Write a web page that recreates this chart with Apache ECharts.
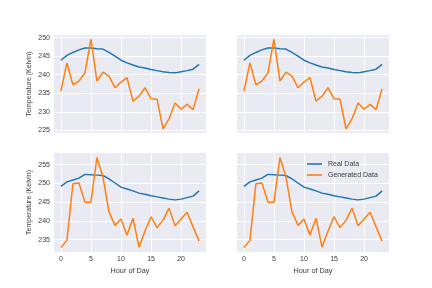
<!DOCTYPE html>
<html><head><meta charset="utf-8">
<script src="https://cdn.jsdelivr.net/npm/echarts@6/dist/echarts.min.js"></script>
<style>html,body{margin:0;padding:0;background:#fff}#c{width:432px;height:288px}</style>
</head><body><div id="c"></div>
<script>
const hours = [0,1,2,3,4,5,6,7,8,9,10,11,12,13,14,15,16,17,18,19,20,21,22,23];
const realTop = [243.9,245.2,246.0,246.7,247.2,247.2,247.0,246.9,246.0,245.0,243.9,243.2,242.6,242.1,241.8,241.4,241.1,240.8,240.6,240.5,240.8,241.1,241.5,242.8];
const genTop = [235.6,243.2,237.3,238.3,240.5,249.6,238.3,240.7,239.6,236.5,238.0,239.2,232.9,234.2,236.5,233.5,233.4,225.4,228.1,232.4,230.7,232.0,230.6,236.2];
const realBottom = [249.2,250.4,250.9,251.4,252.4,252.3,252.2,252.1,251.2,250.1,249.0,248.5,248.0,247.4,247.1,246.7,246.4,246.1,245.8,245.6,245.8,246.2,246.6,248.0];
const genBottom = [232.9,234.8,249.9,250.1,245.0,245.0,256.9,251.7,242.4,238.8,240.5,236.2,240.7,233.0,237.3,241.1,238.2,240.2,243.4,238.7,240.5,242.3,238.4,234.6];
const xTicks = [0,5,10,15,20];
const yTicksTop = [225,230,235,240,245,250];
const yTicksBottom = [235,240,245,250,255];
const seriesNames = ['Real Data','Generated Data'];

const font = 'Liberation Sans, Arial, sans-serif';
const txt = '#3a3a3a';
const grids = [
  {left:54, top:35, width:152, height:98},
  {left:237, top:35, width:152, height:98},
  {left:54, top:153, width:152, height:99},
  {left:237, top:153, width:152, height:99}
].map(g => Object.assign({backgroundColor:'#EAEAF2', show:true, borderWidth:0, containLabel:false}, g));

function xAx(i, showLabels, showName){
  return {
    type:'value', gridIndex:i, min:-1.15, max:24.15,
    axisLine:{show:false},
    axisTick:{show:true, length:0, customValues:xTicks, lineStyle:{color:'rgba(0,0,0,0)'}},
    axisLabel:{show:showLabels, customValues:xTicks, fontSize:7, color:txt, fontFamily:font, margin:4},
    splitLine:{show:true, lineStyle:{color:'#fff', width:1}},
    name: showName ? 'Hour of Day' : '', nameLocation:'middle', nameGap:15,
    nameTextStyle:{fontSize:7.3, color:txt, fontFamily:font}
  };
}
function yAx(i, min, max, ticks, showLabels){
  return {
    type:'value', gridIndex:i, min:min, max:max,
    axisLine:{show:false},
    axisTick:{show:true, length:0, customValues:ticks, lineStyle:{color:'rgba(0,0,0,0)'}},
    axisLabel:{show:showLabels, customValues:ticks, fontSize:7, color:txt, fontFamily:font, margin:4},
    splitLine:{show:true, lineStyle:{color:'#fff', width:1}},
    name: showLabels ? 'Temperature (Kelvin)' : '', nameLocation:'middle', nameGap:21, nameRotate:90,
    nameTextStyle:{fontSize:7, color:txt, fontFamily:font}
  };
}
const xAxes = [xAx(0,false,false), xAx(1,false,false), xAx(2,true,true), xAx(3,true,true)];
const yAxes = [
  yAx(0,224.3,250.7,yTicksTop,true), yAx(1,224.3,250.7,yTicksTop,false),
  yAx(2,231.7,258.1,yTicksBottom,true), yAx(3,231.7,258.1,yTicksBottom,false)
];
const colors = ['#1f77b4','#ff7f0e'];
const series = [];
const sets = [[realTop,genTop],[realTop,genTop],[realBottom,genBottom],[realBottom,genBottom]];
sets.forEach((pair, i) => {
  pair.forEach((vals, k) => {
    series.push({
      type:'line', name:seriesNames[k], xAxisIndex:i, yAxisIndex:i,
      data: hours.map((h, j) => [h, vals[j]]),
      symbol:'none', lineStyle:{width:1.5, color:colors[k]}, itemStyle:{color:colors[k]},
      animation:false, z: 2 + k
    });
  });
});
const chart = echarts.init(document.getElementById('c'), null, {renderer:'canvas'});
chart.setOption({
  animation:false,
  color: colors,
  grid: grids, xAxis: xAxes, yAxis: yAxes, series: series,
  legend: {
    data: seriesNames, orient:'vertical', left:307, top:160.5,
    icon:'rect', itemWidth:15, itemHeight:1.6, itemGap:4,
    textStyle:{fontSize:7, color:txt, fontFamily:font, padding:[0,0,0,1]},
    padding:0
  }
});
</script></body></html>
